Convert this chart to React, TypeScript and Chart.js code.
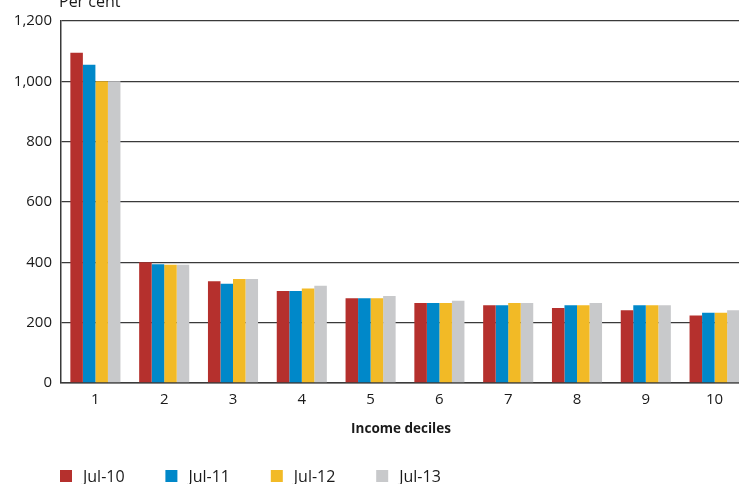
import React, { useEffect, useRef } from "react";
import { Chart, registerables } from "chart.js";

Chart.register(...registerables);

const deciles = ["1", "2", "3", "4", "5", "6", "7", "8", "9", "10"];
const jul10 = [1095, 400, 337, 305, 281, 265, 258, 249, 241, 224];
const jul11 = [1055, 394, 329, 305, 281, 265, 258, 258, 258, 233];
const jul12 = [1000, 392, 345, 313, 281, 265, 265, 258, 258, 233];
const jul13 = [1000, 392, 345, 322, 288, 273, 265, 265, 258, 241];
const seriesLabels = ["Jul-10", "Jul-11", "Jul-12", "Jul-13"];
const seriesColors = ["#b5302d", "#0088c9", "#f2ba26", "#c8c9cb"];
const yTicks = [0, 200, 400, 600, 800, 1000, 1200];

const FONT = "'Open Sans', 'Noto Sans', sans-serif";
const TEXT = "#1a1a1a";
const VIEW_W = 739;

// Axis unit caption, x-axis title and the legend row under the chart
const annotations = {
  id: "annotations",
  afterDraw(chart: any) {
    const { ctx, chartArea } = chart;
    ctx.save();
    ctx.fillStyle = TEXT;
    ctx.textBaseline = "alphabetic";

    ctx.font = `16px ${FONT}`;
    ctx.textAlign = "left";
    ctx.fillText("Per cent", chartArea.left - 2, 7);

    ctx.font = `bold 13.5px ${FONT}`;
    ctx.textAlign = "center";
    ctx.fillText("Income deciles", (chartArea.left + VIEW_W) / 2 + 1, 433);

    ctx.font = `16px ${FONT}`;
    ctx.textAlign = "left";
    ctx.textBaseline = "middle";
    chart.data.datasets.forEach((ds: any, i: number) => {
      const x = chartArea.left - 1 + i * 105.4;
      ctx.fillStyle = ds.backgroundColor;
      ctx.fillRect(x, 470, 12, 12);
      ctx.fillStyle = TEXT;
      ctx.fillText(ds.label, x + 23, 477);
    });
    ctx.restore();
  },
};

export default function App() {
  const ref = useRef<HTMLCanvasElement>(null);

  useEffect(() => {
    document.body.style.margin = "0";
    const values = [jul10, jul11, jul12, jul13];
    const chart = new Chart(ref.current!, {
      type: "bar",
      data: {
        labels: deciles,
        datasets: values.map((v, i) => ({
          label: seriesLabels[i],
          data: v,
          backgroundColor: seriesColors[i],
          borderWidth: 0,
          barPercentage: 1,
          categoryPercentage: 0.728,
        })),
      },
      options: {
        responsive: false,
        animation: false,
        layout: { autoPadding: false, padding: { top: 21, right: 0, bottom: 0, left: 0 } },
        plugins: {
          legend: { display: false },
          tooltip: { enabled: false },
          title: { display: false },
        },
        scales: {
          x: {
            afterFit: (s: any) => {
              s.height = 101;
              s.paddingLeft = 0;
              s.paddingRight = 0;
            },
            grid: { display: false, drawTicks: false },
            border: { display: true, color: "#3a3a3a", width: 1.5 },
            ticks: { color: TEXT, font: { family: FONT, size: 15 }, padding: 8, maxRotation: 0 },
          },
          y: {
            min: 0,
            max: 1200,
            afterFit: (s: any) => {
              s.width = 61;
              s.paddingTop = 0;
              s.paddingBottom = 0;
            },
            afterBuildTicks: (s: any) => {
              s.ticks = yTicks.map((v) => ({ value: v }));
            },
            grid: { color: "#3a3a3a", lineWidth: 1.3, drawTicks: false },
            border: { display: true, color: "#3a3a3a", width: 1.5 },
            ticks: {
              color: TEXT,
              font: { family: FONT, size: 15 },
              padding: 9,
              callback: (v: any) => Number(v).toLocaleString("en-US"),
            },
          },
        },
      },
      plugins: [annotations],
    });
    return () => chart.destroy();
  }, []);

  return (
    <div style={{ position: "absolute", left: 0, top: 0, width: VIEW_W, height: 484, overflow: "hidden" }}>
      <canvas ref={ref} width={749} height={484} />
    </div>
  );
}
